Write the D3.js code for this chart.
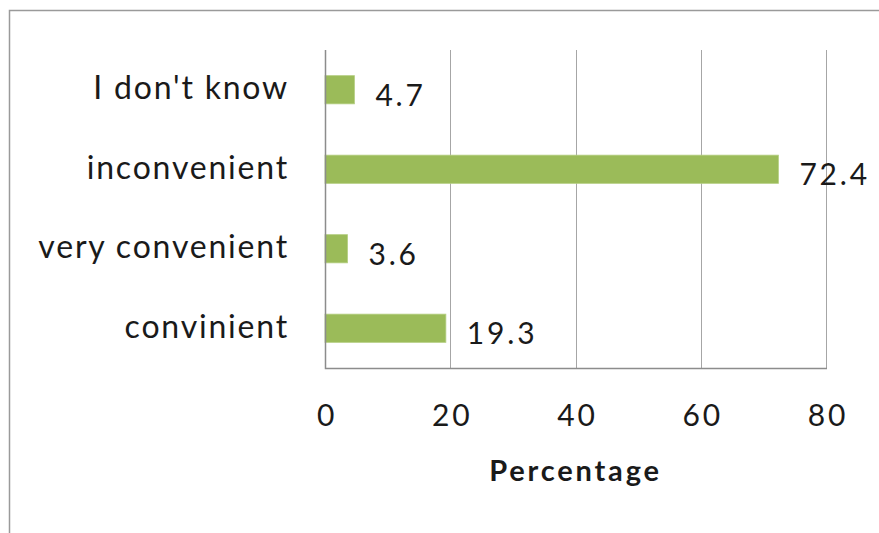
<!DOCTYPE html>
<html>
<head>
<meta charset="utf-8">
<script src="https://cdn.jsdelivr.net/npm/d3@7"></script>
<style>
  html, body { margin: 0; padding: 0; background: #fff; }
  svg { display: block; }
  text { font-family: Lato, "Open Sans", sans-serif; fill: #1a1a1a; letter-spacing: 2.8px; }
</style>
</head>
<body>
<svg id="chart" width="879" height="533"></svg>
<script>
// Survey responses, top to bottom
const categories = ["I don't know", "inconvenient", "very convenient", "convinient"];
const percentages = [4.7, 72.4, 3.6, 19.3];
const xTicks = [0, 20, 40, 60, 80];
const axisTitle = "Percentage";

const W = 879, H = 533;
const plot = { left: 325, right: 826, top: 50, bottom: 368 };

const svg = d3.select("#chart");

// Outer chart frame (top and left edges)
svg.append("path")
  .attr("d", `M9.5,${H} V10.5 H${W}`)
  .attr("fill", "none")
  .attr("stroke", "#9a9a9a")
  .attr("stroke-width", 1.5);

const x = d3.scaleLinear().domain([0, 80]).range([plot.left, plot.right]);
const y = d3.scaleBand().domain(categories).range([plot.top, plot.bottom]).paddingInner(0.645).paddingOuter(0.3225);

// Vertical gridlines
svg.append("g")
  .selectAll("line")
  .data(xTicks.filter(t => t > 0))
  .join("line")
  .attr("x1", d => Math.round(x(d)) + 0.5)
  .attr("x2", d => Math.round(x(d)) + 0.5)
  .attr("y1", plot.top)
  .attr("y2", plot.bottom)
  .attr("stroke", "#a6a6a6")
  .attr("stroke-width", 1);

// Bars
svg.append("g")
  .selectAll("rect")
  .data(categories)
  .join("rect")
  .attr("x", x(0))
  .attr("y", d => y(d))
  .attr("width", (d, i) => x(percentages[i]) - x(0))
  .attr("height", y.bandwidth())
  .attr("fill", "#9bbb59")
  .attr("stroke", "#b5cf83")
  .attr("stroke-width", 0.8);

// Value labels
svg.append("g")
  .selectAll("text")
  .data(categories)
  .join("text")
  .attr("x", (d, i) => x(percentages[i]) + 21)
  .attr("y", d => y(d) + y.bandwidth() / 2 + 4)
  .attr("dominant-baseline", "central")
  .attr("font-size", 30)
  .text((d, i) => percentages[i].toFixed(1));

// Axis lines (left and bottom)
svg.append("path")
  .attr("d", `M${plot.left + 0.5},${plot.top} V${plot.bottom + 0.5} H${plot.right + 1}`)
  .attr("fill", "none")
  .attr("stroke", "#8c8c8c")
  .attr("stroke-width", 1.5);

// Category labels
const yAxis = d3.axisLeft(y).tickSize(0).tickPadding(36);
const gy = svg.append("g").attr("transform", `translate(${plot.left},0)`).call(yAxis);
gy.select(".domain").remove();
gy.selectAll("text")
  .attr("font-size", 32)
  .attr("font-family", "Lato, 'Open Sans', sans-serif")
  .attr("fill", "#1a1a1a")
  .style("letter-spacing", "1.8px")
  .attr("dy", "0.3em");

// X tick labels
const xAxis = d3.axisBottom(x).tickValues(xTicks).tickSize(0).tickPadding(37);
const gx = svg.append("g").attr("transform", `translate(1.5,${plot.bottom})`).call(xAxis);
gx.select(".domain").remove();
gx.selectAll("text")
  .attr("font-size", 30)
  .attr("font-family", "Lato, 'Open Sans', sans-serif")
  .attr("fill", "#1a1a1a");

// Axis title
svg.append("text")
  .attr("x", (plot.left + plot.right) / 2)
  .attr("y", 481)
  .attr("text-anchor", "middle")
  .attr("font-size", 29)
  .attr("font-weight", "bold")
  .text(axisTitle);
</script>
</body>
</html>
